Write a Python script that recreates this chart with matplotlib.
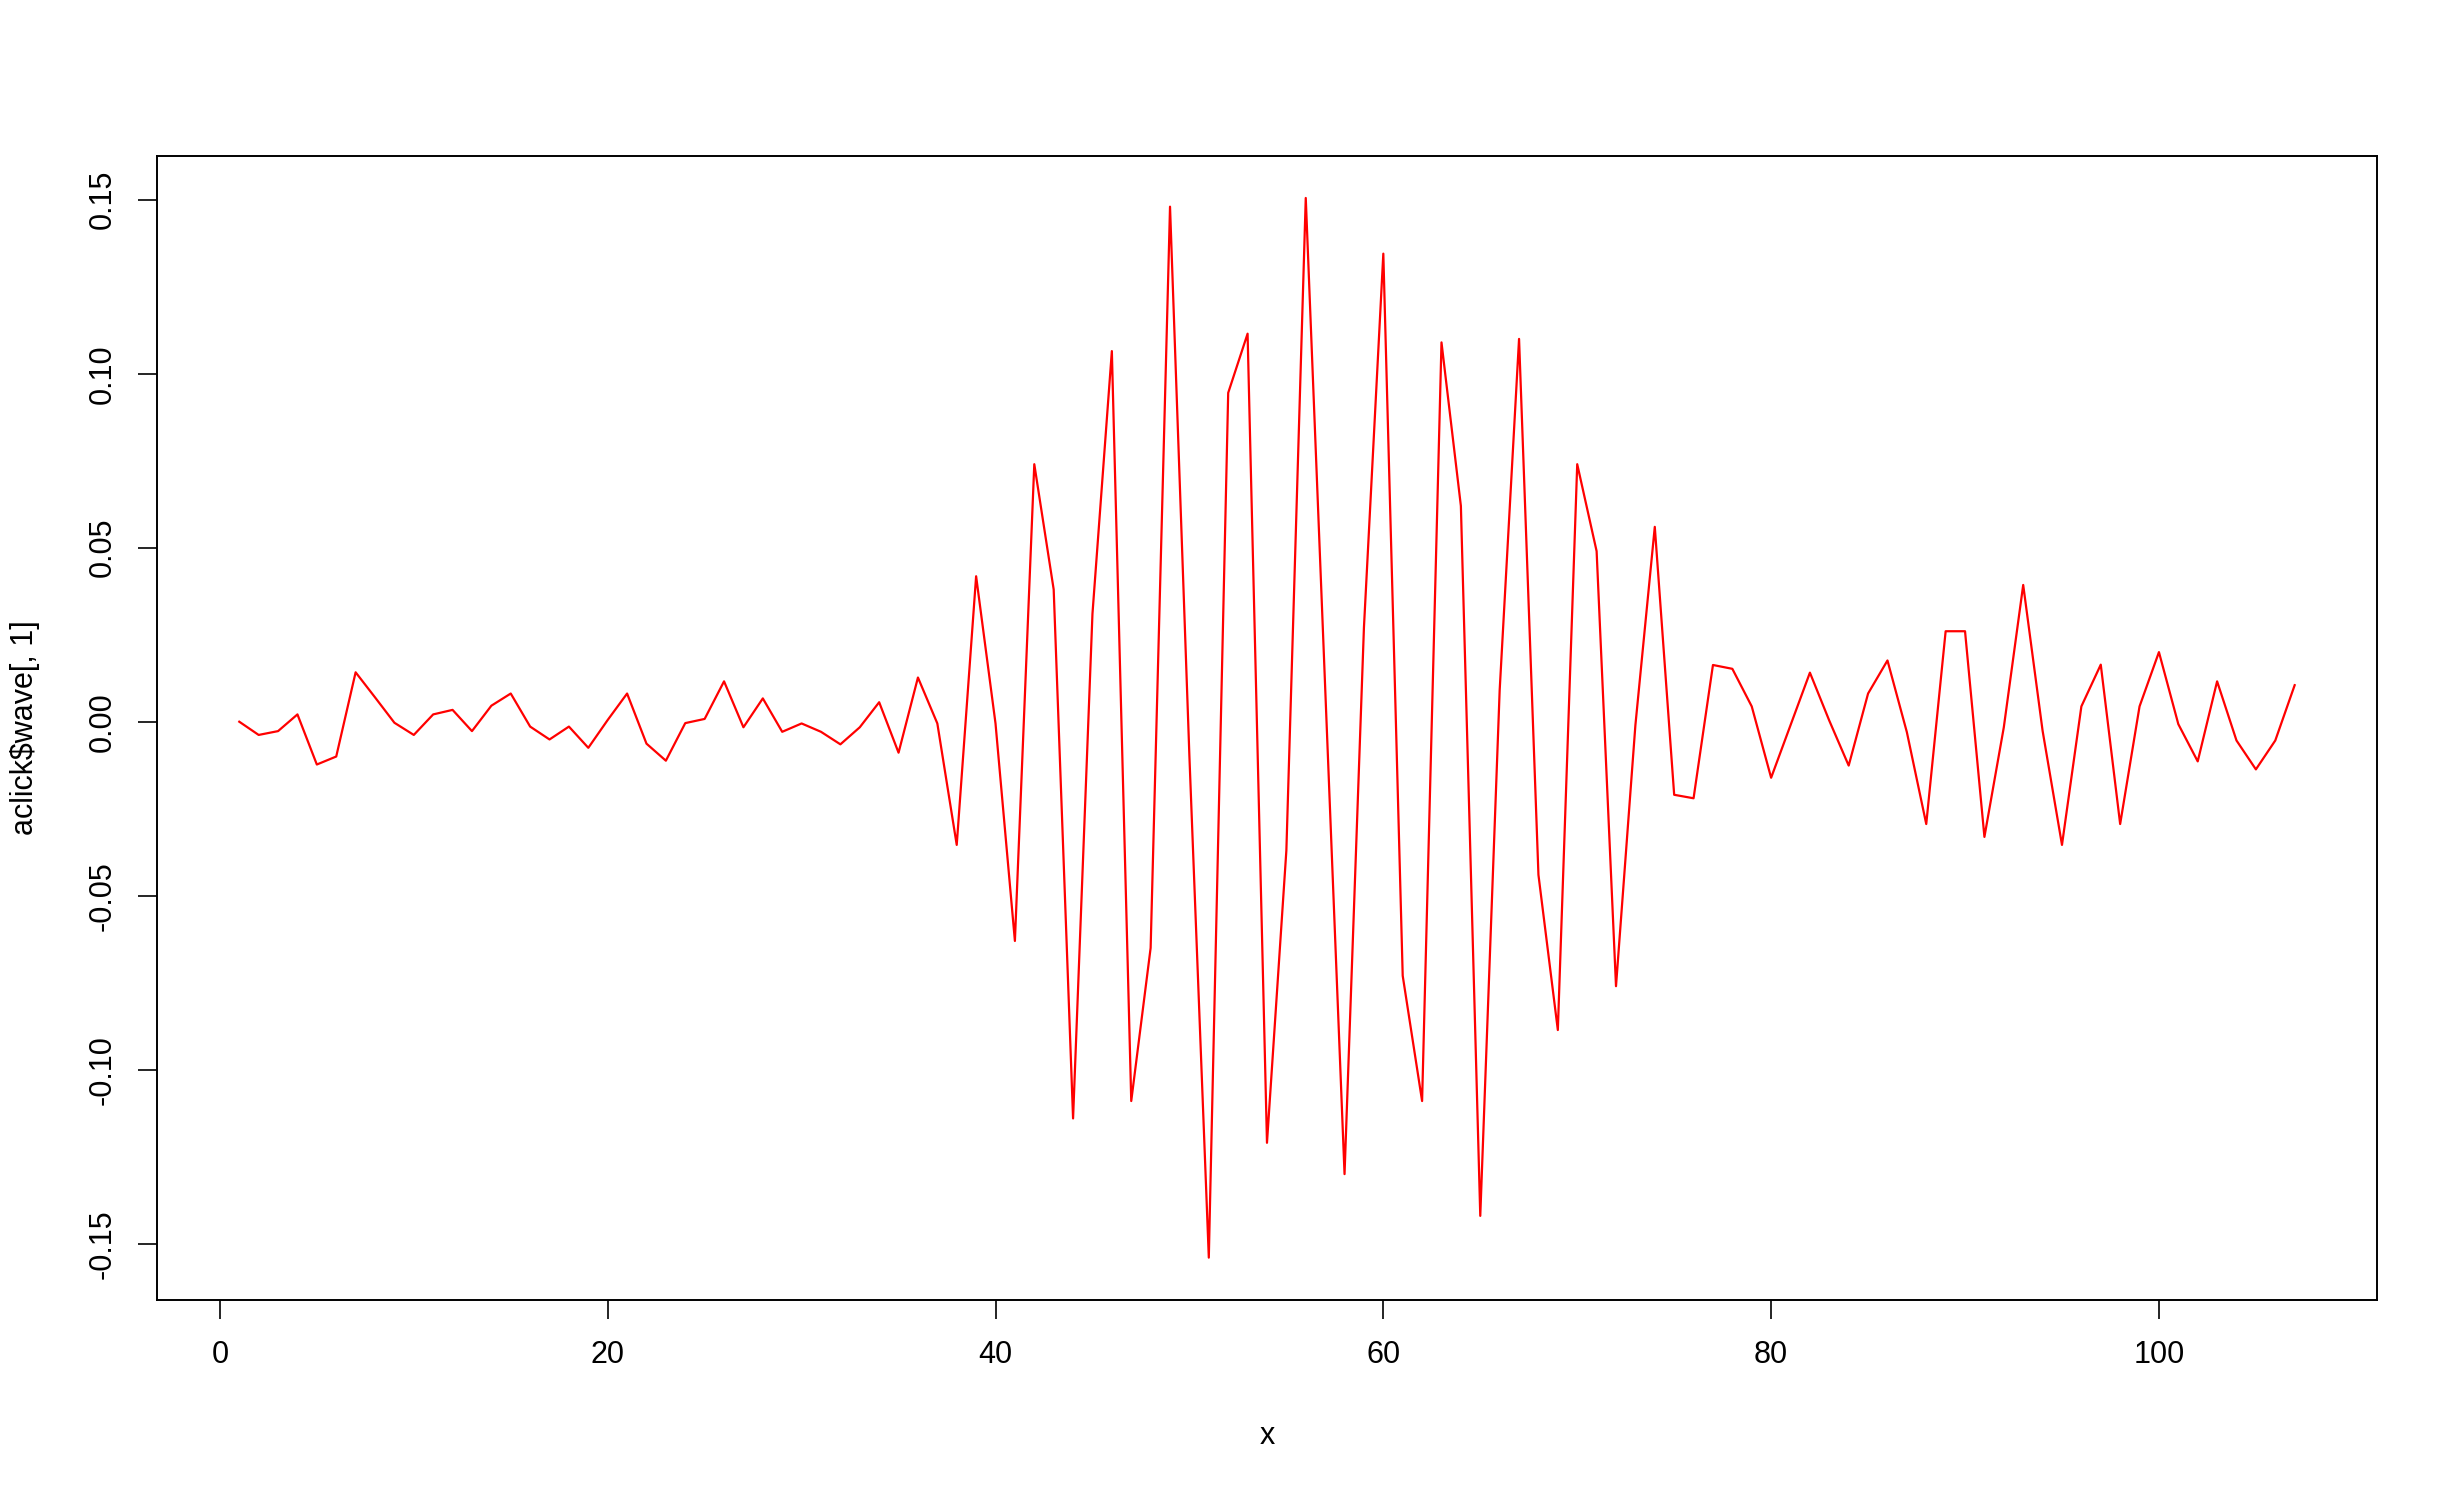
import matplotlib
matplotlib.use('Agg')
import matplotlib.pyplot as plt

# click waveform, channel 1
wave = [
    0.0000, -0.0038, -0.0027, 0.0021, -0.0123, -0.0100, 0.0142, 0.0070, -0.0003, -0.0038,
    0.0021, 0.0034, -0.0027, 0.0046, 0.0081, -0.0014, -0.0051, -0.0014, -0.0075, 0.0005,
    0.0081, -0.0063, -0.0112, -0.0004, 0.0008, 0.0116, -0.0016, 0.0067, -0.0029, -0.0005,
    -0.0029, -0.0065, -0.0016, 0.0056, -0.0089, 0.0127, -0.0005, -0.0354, 0.0418, -0.0005,
    -0.0630, 0.0740, 0.0380, -0.1140, 0.0310, 0.1065, -0.1090, -0.0650, 0.1480, -0.0100,
    -0.1540, 0.0945, 0.1115, -0.1210, -0.0370, 0.1505, 0.0100, -0.1300, 0.0270, 0.1345,
    -0.0730, -0.1090, 0.1090, 0.0620, -0.1420, 0.0090, 0.1100, -0.0440, -0.0886, 0.0740,
    0.0490, -0.0760, -0.0010, 0.0560, -0.0210, -0.0220, 0.0163, 0.0152, 0.0044, -0.0161,
    -0.0010, 0.0141, 0.0003, -0.0126, 0.0081, 0.0176, -0.0030, -0.0294, 0.0260, 0.0260,
    -0.0331, -0.0016, 0.0393, -0.0026, -0.0354, 0.0044, 0.0164, -0.0294, 0.0044, 0.0200,
    -0.0007, -0.0114, 0.0116, -0.0054, -0.0137, -0.0054, 0.0105,
]
x = list(range(1, len(wave) + 1))

xticks = [0, 20, 40, 60, 80, 100]
yticks = [-0.15, -0.10, -0.05, 0.00, 0.05, 0.10, 0.15]
ytick_labels = ['-0.15', '-0.10', '-0.05', '0.00', '0.05', '0.10', '0.15']

plt.rcParams['font.family'] = ['Liberation Sans', 'DejaVu Sans']
plt.rcParams['font.size'] = 22

fig = plt.figure(figsize=(24.58, 14.96), dpi=100)
ax = fig.add_axes([0.0639, 0.131, 0.967 - 0.0639, 0.896 - 0.131])

ax.plot(x, wave, color='red', lw=1.6)
ax.margins(x=0.04, y=0.04)

ax.set_xticks(xticks)
ax.set_yticks(yticks)
ax.set_yticklabels(ytick_labels, rotation=90, va='center')

ax.tick_params(direction='out', length=13.5, width=1.2, pad=15, labelsize=22)
for s in ax.spines.values():
    s.set_linewidth(1.4)

ax.set_xlabel('x', labelpad=37)
ax.set_ylabel('aclick\\$wave[, 1]', labelpad=34)

fig.savefig('out.png', dpi=100)
